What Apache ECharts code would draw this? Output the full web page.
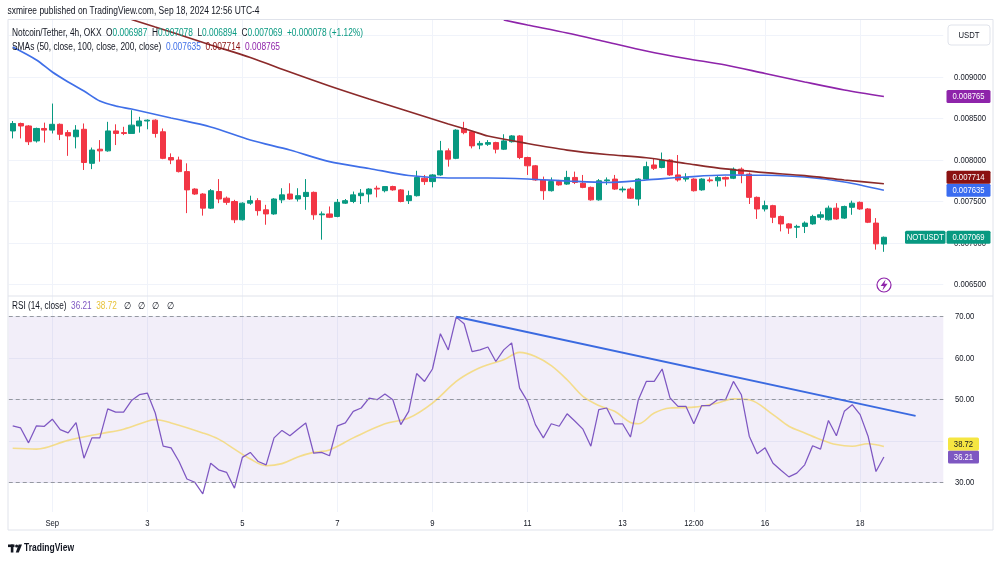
<!DOCTYPE html>
<html><head><meta charset="utf-8">
<script src="https://cdn.jsdelivr.net/npm/echarts@6/dist/echarts.min.js"></script>
<style>html,body{margin:0;padding:0;background:#fff}#c{width:1000px;height:562px}</style>
</head><body><div id="c"></div>
<script>
const FONT = '"Liberation Sans","Noto Sans",Arial,sans-serif';

// time axis (4h candles, index 0 = Aug 31 04:00)
const NCAT = 118;
const labelIndex = [5, 17, 29, 41, 53, 65, 77, 86, 95, 107];
const labelText  = ['Sep', '3', '5', '7', '9', '11', '13', '12:00', '16', '18'];
const priceTicks = [0.0065, 0.0070, 0.0075, 0.0080, 0.0085, 0.0090, 0.0095];
const rsiTicks = [30, 40, 50, 60, 70];

// candles: [open, high, low, close]
const candles = [
[0.00835,0.00847,0.00826,0.00844],[0.00844,0.00845,0.00826,0.00841],[0.00841,0.00842,0.00818,0.00822],[0.00823,0.00839,0.00821,0.00838],
[0.00838,0.00845,0.00821,0.00836],[0.00836,0.00868,0.00832,0.00843],[0.00843,0.00844,0.00824,0.00831],[0.00833,0.00836,0.00805,0.00829],
[0.00828,0.00842,0.00814,0.00836],[0.00837,0.00844,0.00788,0.00797],[0.00796,0.00815,0.00789,0.00812],[0.00813,0.00824,0.00798,0.00811],
[0.00811,0.00846,0.00810,0.00835],[0.00835,0.00843,0.00818,0.00832],[0.00833,0.00840,0.00830,0.00832],[0.00832,0.00860,0.00832,0.00842],
[0.00841,0.00852,0.00833,0.00847],[0.00847,0.00849,0.00837,0.00848],[0.00848,0.00849,0.00827,0.00832],[0.00834,0.00838,0.00801,0.00802],
[0.00803,0.00808,0.00795,0.00800],[0.00800,0.00804,0.00785,0.00786],[0.00786,0.00796,0.00736,0.00764],[0.00765,0.00766,0.00758,0.00759],
[0.00759,0.00760,0.00733,0.00742],[0.00742,0.00765,0.00741,0.00763],[0.00762,0.00777,0.00748,0.00753],[0.00754,0.00756,0.00746,0.00749],
[0.00750,0.00752,0.00724,0.00728],[0.00728,0.00749,0.00727,0.00748],[0.00748,0.00757,0.00746,0.00751],[0.00751,0.00754,0.00733,0.00739],
[0.00740,0.00746,0.00722,0.00735],[0.00735,0.00754,0.00734,0.00753],[0.00752,0.00766,0.00748,0.00758],[0.00759,0.00772,0.00752,0.00753],
[0.00753,0.00766,0.00750,0.00757],[0.00756,0.00777,0.00740,0.00761],[0.00761,0.00762,0.00728,0.00734],[0.00734,0.00738,0.00704,0.00735],
[0.00735,0.00744,0.00730,0.00731],[0.00732,0.00753,0.00731,0.00749],[0.00748,0.00753,0.00747,0.00751],[0.00750,0.00762,0.00748,0.00758],
[0.00757,0.00765,0.00747,0.00760],[0.00759,0.00766,0.00749,0.00765],[0.00766,0.00769,0.00755,0.00765],[0.00763,0.00768,0.00761,0.00768],
[0.00768,0.00769,0.00763,0.00764],[0.00764,0.00765,0.00749,0.00750],[0.00751,0.00763,0.00747,0.00757],[0.00757,0.00787,0.00756,0.00779],
[0.00778,0.00782,0.00770,0.00774],[0.00774,0.00783,0.00767,0.00782],[0.00782,0.00823,0.00781,0.00811],[0.00811,0.00814,0.00792,0.00801],
[0.00802,0.00837,0.00801,0.00836],[0.00838,0.00846,0.00831,0.00833],[0.00834,0.00835,0.00814,0.00817],[0.00818,0.00823,0.00813,0.00820],
[0.00819,0.00824,0.00817,0.00821],[0.00821,0.00822,0.00808,0.00813],[0.00813,0.00831,0.00812,0.00823],[0.00822,0.00830,0.00821,0.00829],
[0.00829,0.00830,0.00801,0.00803],[0.00803,0.00804,0.00782,0.00793],[0.00793,0.00794,0.00775,0.00776],[0.00776,0.00780,0.00752,0.00763],
[0.00763,0.00779,0.00762,0.00774],[0.00774,0.00776,0.00769,0.00770],[0.00771,0.00787,0.00770,0.00779],[0.00779,0.00786,0.00771,0.00773],
[0.00772,0.00782,0.00766,0.00767],[0.00767,0.00768,0.00751,0.00752],[0.00752,0.00777,0.00751,0.00775],[0.00775,0.00779,0.00770,0.00776],
[0.00777,0.00782,0.00764,0.00765],[0.00764,0.00768,0.00761,0.00765],[0.00765,0.00767,0.00753,0.00754],[0.00753,0.00778,0.00745,0.00777],
[0.00777,0.00798,0.00776,0.00792],[0.00794,0.00802,0.00788,0.00790],[0.00791,0.00809,0.00790,0.00800],[0.00800,0.00801,0.00781,0.00782],
[0.00782,0.00806,0.00774,0.00776],[0.00777,0.00784,0.00774,0.00779],[0.00777,0.00778,0.00762,0.00763],[0.00764,0.00778,0.00763,0.00777],
[0.00776,0.00779,0.00773,0.00775],[0.00775,0.00781,0.00768,0.00779],[0.00779,0.00780,0.00768,0.00777],[0.00778,0.00791,0.00777,0.00789],
[0.00789,0.00791,0.00772,0.00783],[0.00783,0.00785,0.00747,0.00755],[0.00755,0.00756,0.00729,0.00741],[0.00741,0.00751,0.00738,0.00745],
[0.00745,0.00746,0.00724,0.00731],[0.00732,0.00733,0.00714,0.00723],[0.00723,0.00724,0.00711,0.00718],[0.00719,0.00722,0.00706,0.00720],
[0.00720,0.00726,0.00712,0.00724],[0.00723,0.00734,0.00722,0.00732],[0.00731,0.00738,0.00728,0.00734],[0.00728,0.00745,0.00727,0.00742],
[0.00742,0.00748,0.00728,0.00729],[0.00730,0.00745,0.00729,0.00744],[0.00743,0.00751,0.00734,0.00748],[0.00749,0.00750,0.00740,0.00741],
[0.00741,0.00742,0.00724,0.00725],[0.00724,0.00730,0.00692,0.00699],[0.006987,0.007078,0.006894,0.007069]
];

// moving averages: [candle index, value]
const sma50 = [[0,0.009361],[3,0.009205],[5,0.009060],[7,0.008940],[9,0.008831],[11,0.008711],[13,0.008651],[15,0.008614],
[20,0.008506],[25,0.008398],[30,0.008241],[35,0.008120],[40,0.007980],[45,0.007898],[50,0.007813],[55,0.007783],[60,0.007783],
[65,0.007771],[70,0.007747],[75,0.007729],[80,0.007759],[85,0.007795],[90,0.007819],[95,0.007816],[100,0.007795],[105,0.007735],[110,0.007635]];
const sma100 = [[15,0.009693],[18,0.009602],[20,0.009542],[25,0.009386],[30,0.009235],[35,0.009060],[40,0.008892],[45,0.008735],
[50,0.008584],[55,0.008434],[58,0.008349],[60,0.008289],[65,0.008199],[70,0.008120],[75,0.008066],[80,0.008027],[85,0.007958],
[90,0.007892],[95,0.007847],[100,0.007811],[105,0.007759],[110,0.007714]];
const sma200 = [[62,0.009687],[65,0.009627],[70,0.009530],[75,0.009422],[80,0.009313],[85,0.009223],[90,0.009145],[95,0.009042],
[100,0.008940],[105,0.008843],[110,0.008765]];

// RSI (14, close) per candle
const rsi = [43.7,43.2,39.6,43.7,43.6,45.3,42.8,42.0,44.5,35.9,
40.8,40.8,47.8,47.0,47.0,49.8,51.2,51.6,46.8,38.8,
38.4,35.1,30.9,30.1,27.3,34.7,33.1,32.5,28.7,36.1,
37.3,35.1,34.3,40.8,42.6,41.3,42.9,44.4,37.1,37.3,
36.5,43.7,44.4,47.2,48.0,50.4,50.0,51.4,50.0,44.0,
47.2,56.3,54.4,57.4,65.9,62.0,69.9,68.3,61.6,62.0,
62.7,59.2,62.0,63.7,52.8,49.6,44.0,40.8,44.2,43.6,
46.6,44.8,42.9,38.8,47.6,48.0,44.2,44.2,41.0,50.0,
54.4,54.4,57.4,50.4,48.4,48.4,44.2,48.6,48.6,50.0,
50.0,54.4,51.2,41.2,37.0,38.4,34.7,33.0,31.4,32.3,
34.3,38.9,38.1,45.0,41.3,47.2,48.8,46.4,41.2,32.7,
36.21];
const rsiMa = [[0,38.3],[3,38.1],[7,40.2],[11,41.8],[14,42.9],[17,44.8],[18,45.2],[20,44.4],[24,42.0],[26,40.5],[28,38.1],
[30,35.7],[32,34.1],[34,34.6],[36,36.2],[38,37.3],[40,37.9],[43,40.8],[47,44.2],[50,45.6],[53,49.2],[56,54.4],[58,56.8],
[60,58.4],[62,59.6],[64,61.4],[66,60.4],[68,58.2],[70,54.8],[72,50.8],[74,48.6],[76,47.2],[78,44.5],[79,44.2],[81,46.8],
[83,48.0],[86,48.2],[89,49.2],[91,50.2],[93,50.0],[96,46.4],[98,43.6],[100,42.0],[102,40.4],[104,39.2],[106,38.8],[108,39.4],[110,38.72]];
const rsiTrend = [[56,70],[114,46.1]];
const rsiLevels = [70, 50, 30];

const headerLine1 = 'sxmiree published on TradingView.com, Sep 18, 2024 12:56 UTC-4';
const symbolText = 'Notcoin/Tether, 4h, OKX';
const changeText = '+0.000078 (+1.12%)';
const smaText = 'SMAs (50, close, 100, close, 200, close)';
const rsiText = 'RSI (14, close)';

const C_UP = '#089981', C_DN = '#f23645', C_50 = '#3f6fe8', C_100 = '#8b2a2a', C_100TAG = '#8b1212', C_200 = '#8e24aa',
      C_RSI = '#7e57c2', C_MA = 'rgba(245,210,80,0.65)', C_TXT = '#131722', C_GRID = '#f0f3fa';

const categories = Array.from({length: NCAT}, (_, i) => { const k = labelIndex.indexOf(i); return k >= 0 ? labelText[k] : ''; });
const last = candles[candles.length - 1];
const maxHigh = Math.max(...candles.map(c => c[1]));
const minLow = Math.min(...candles.map(c => c[2]));
const f6 = v => v.toFixed(6);

const chart = echarts.init(document.getElementById('c'), null, {renderer: 'canvas'});
const gridL = 8.74, gridW = 934.56;
const option = {
  animation: false,
  backgroundColor: '#ffffff',
  textStyle: {fontFamily: FONT},
  grid: [
    {left: gridL, width: gridW, top: 18.9, height: 265.6},
    {left: gridL, width: gridW, top: 316.7, height: 166},
    {left: 12.7, width: 926.64, top: 19.5, height: 492.5}
  ],
  xAxis: [
    {type: 'category', gridIndex: 0, data: categories, boundaryGap: true, show: false},
    {type: 'category', gridIndex: 1, data: categories, boundaryGap: true, show: false},
    {type: 'category', gridIndex: 2, data: categories, boundaryGap: false, z: 0,
     axisLine: {show: false}, axisTick: {show: false}, axisLabel: {show: false},
     splitLine: {show: true, interval: (i, v) => v !== '', lineStyle: {color: C_GRID, width: 1}}}
  ],
  yAxis: [
    {type: 'value', gridIndex: 0, position: 'right', min: 0.0065, max: 0.0097, interval: 0.0005,
     axisLine: {show: false}, axisTick: {show: false}, axisLabel: {show: false},
     splitLine: {lineStyle: {color: C_GRID}}},
    {type: 'value', gridIndex: 1, position: 'right', min: 30, max: 70, interval: 10,
     axisLine: {show: false}, axisTick: {show: false}, axisLabel: {show: false},
     splitLine: {lineStyle: {color: C_GRID}}},
    {type: 'value', gridIndex: 2, min: 0, max: 1, show: false}
  ],
  series: [
    {type: 'candlestick', xAxisIndex: 0, yAxisIndex: 0, barWidth: 5.6,
     data: candles.map(c => [c[0], c[3], c[2], c[1]]),
     itemStyle: {color: C_UP, color0: C_DN, borderColor: C_UP, borderColor0: C_DN, borderWidth: 1},
     markLine: {silent: true, symbol: 'none', label: {show: false}, animation: false,
       data: [
         {yAxis: maxHigh, lineStyle: {color: '#a7aab3', type: [1.5, 1.5], width: 1}},
         {yAxis: minLow, lineStyle: {color: '#a7aab3', type: [1.5, 1.5], width: 1}},
         {yAxis: last[3], lineStyle: {color: C_UP, type: [1.5, 1.5], width: 1, opacity: 0.6}}
       ]}},
    {type: 'line', xAxisIndex: 0, yAxisIndex: 0, data: sma50, smooth: 0.3, symbol: 'none', z: 3,
     lineStyle: {color: C_50, width: 1.7}},
    {type: 'line', xAxisIndex: 0, yAxisIndex: 0, data: sma100, smooth: 0.3, symbol: 'none', z: 3,
     lineStyle: {color: C_100, width: 1.7}},
    {type: 'line', xAxisIndex: 0, yAxisIndex: 0, data: sma200, smooth: 0.3, symbol: 'none', z: 3,
     lineStyle: {color: C_200, width: 1.7}},
    {type: 'line', xAxisIndex: 1, yAxisIndex: 1, data: rsi, symbol: 'none', clip: false, z: 4,
     lineStyle: {color: C_RSI, width: 1.25},
     markArea: {silent: true, itemStyle: {color: 'rgba(126,87,194,0.1)'}, data: [[{yAxis: 70}, {yAxis: 30}]]},
     markLine: {silent: true, symbol: 'none', label: {show: false},
       lineStyle: {color: '#9598a1', type: [4, 3], width: 1},
       data: rsiLevels.map(v => ({yAxis: v}))}},
    {type: 'line', xAxisIndex: 1, yAxisIndex: 1, data: rsiMa, smooth: 0.35, symbol: 'none', z: 3,
     lineStyle: {color: C_MA, width: 1.6}},
    {type: 'line', xAxisIndex: 1, yAxisIndex: 1, data: rsiTrend, symbol: 'none', z: 5, clip: false,
     lineStyle: {color: '#3b6ae0', width: 2}}
  ]
};
chart.setOption(option);

// ---------- overlay texts (condensed like the reference) ----------
const S = 0.81;
const mctx = document.createElement('canvas').getContext('2d');
function textW(str, size, weight) { mctx.font = `${weight || 'normal'} ${size}px ${FONT}`; return mctx.measureText(str).width; }
function T(x, y, text, st, opts) {
  opts = opts || {};
  return {type: 'text', x, y, z: opts.z || 105, silent: true, scaleX: opts.sx || S, scaleY: 1, originX: 0, originY: 0,
    style: Object.assign({text, fontFamily: FONT, fontSize: 9.5, fill: C_TXT, verticalAlign: 'middle', textAlign: 'left'}, st || {})};
}
const rs = (fill) => ({fill, fontFamily: FONT, fontSize: 10});
const g = [];
g.push({type: 'rect', silent: true, z: 90, shape: {x: 8, y: 19.5, width: 985, height: 510.5}, style: {fill: 'none', stroke: '#e0e3eb', lineWidth: 1}});
g.push({type: 'line', silent: true, z: 90, shape: {x1: 8, y1: 296, x2: 993, y2: 296}, style: {stroke: '#e0e3eb', lineWidth: 1}});

g.push(T(7.5, 11.5, headerLine1, {fontSize: 10}, {sx: 252 / textW(headerLine1, 10)}));
const row2plain = `${symbolText}  O${f6(last[0])}  H${f6(last[1])}  L${f6(last[2])}  C${f6(last[3])}  ${changeText}`;
g.push(T(12, 33, `{d|${symbolText}  O}{g|${f6(last[0])}}{d|  H}{g|${f6(last[1])}}{d|  L}{g|${f6(last[2])}}{d|  C}{g|${f6(last[3])}}{g|  ${changeText}}`,
  {fontSize: 10, rich: {d: rs(C_TXT), g: rs(C_UP)}}, {sx: 351 / textW(row2plain, 10)}));
const s50 = f6(sma50[sma50.length-1][1]), s100 = f6(sma100[sma100.length-1][1]), s200 = f6(sma200[sma200.length-1][1]);
const row3plain = `${smaText}  ${s50}  ${s100}  ${s200}`;
g.push(T(12, 47, `{d|${smaText}}{b|  ${s50}}{r|  ${s100}}{p|  ${s200}}`,
  {fontSize: 10, rich: {d: rs(C_TXT), b: rs(C_50), r: rs(C_100TAG), p: rs(C_200)}}, {sx: 268 / textW(row3plain, 10)}));
const rV = rsi[rsi.length-1].toFixed(2), mV = rsiMa[rsiMa.length-1][1].toFixed(2);
const rsiPlain = `${rsiText}  ${rV}  ${mV}   ∅   ∅   ∅   ∅`;
g.push(T(12, 306, `{d|${rsiText}}{p|  ${rV}}{y|  ${mV}}{d|   ∅   ∅   ∅   ∅}`,
  {fontSize: 10, rich: {d: rs(C_TXT), p: rs(C_RSI), y: rs('#e8c33a')}}, {sx: 162 / textW(rsiPlain, 10)}));

// axis labels drawn through the axis scales
const px = (grid, v) => chart.convertToPixel({gridIndex: grid}, [0, v])[1];
priceTicks.forEach(v => g.push(T(954, px(0, v), v.toFixed(6), {}, {z: 95})));
rsiTicks.forEach(v => g.push(T(955, px(1, v), v.toFixed(2), {}, {z: 95})));
labelIndex.forEach((idx, k) => {
  const x = chart.convertToPixel({gridIndex: 2}, [idx, 0])[0];
  g.push(T(x, 523, labelText[k], {textAlign: 'center'}, {z: 95}));
});

// USDT box
g.push({type: 'rect', silent: true, z: 100, shape: {x: 948, y: 25, width: 42, height: 20, r: 3}, style: {fill: '#fff', stroke: '#e0e3eb', lineWidth: 1}});
g.push(T(969, 35, 'USDT', {textAlign: 'center'}, {z: 101}));
// lightning icon
g.push({type: 'circle', silent: true, z: 100, shape: {cx: 884, cy: 285, r: 7}, style: {fill: '#fff', stroke: C_200, lineWidth: 1.2}});
g.push({type: 'polygon', silent: true, z: 101, shape: {points: [[885.6,279.6],[880.6,286],[883.8,286],[882.4,290.6],[887.6,283.8],[884.4,283.8]]}, style: {fill: C_200}});
// footer logo
g.push({type: 'rect', silent: true, z: 100, shape: {x: 8, y: 544.5, width: 6.5, height: 2.6}, style: {fill: C_TXT}});
g.push({type: 'rect', silent: true, z: 100, shape: {x: 10.8, y: 544.5, width: 2.6, height: 8}, style: {fill: C_TXT}});
g.push({type: 'circle', silent: true, z: 100, shape: {cx: 16.6, cy: 546, r: 1.5}, style: {fill: C_TXT}});
g.push({type: 'polygon', silent: true, z: 100, shape: {points: [[18.6,544.5],[22,544.5],[18.8,552.5],[15.8,552.5]]}, style: {fill: C_TXT}});
g.push(T(24, 548.5, 'TradingView', {fontSize: 10.5, fontWeight: 'bold'}, {sx: 50 / textW('TradingView', 10.5, 'bold')}));

// value tags on the right
function placeTags(list, h) {
  list.sort((a, b) => b.y - a.y);
  for (let k = 1; k < list.length; k++) if (list[k-1].y - list[k].y < h) list[k].y = list[k-1].y - h;
}
const priceTags = [
  {v: sma200[sma200.length-1][1], bg: C_200, fg: '#fff'},
  {v: sma100[sma100.length-1][1], bg: C_100TAG, fg: '#fff'},
  {v: sma50[sma50.length-1][1], bg: '#3a6cf0', fg: '#fff'},
  {v: last[3], bg: C_UP, fg: '#fff'}
].map(t => Object.assign(t, {y: px(0, t.v), txt: f6(t.v)}));
placeTags(priceTags, 13);
const rsiTags = [
  {v: rsiMa[rsiMa.length-1][1], bg: '#f5e642', fg: C_TXT},
  {v: rsi[rsi.length-1], bg: C_RSI, fg: '#fff'}
].map(t => Object.assign(t, {y: px(1, t.v), txt: t.v.toFixed(2)}));
placeTags(rsiTags, 13);
function tag(x, w, t) {
  g.push({type: 'rect', silent: true, z: 110, shape: {x, y: t.y - 6.5, width: w, height: 13, r: 1.5}, style: {fill: t.bg}});
  g.push(T(x + w / 2, t.y, t.txt, {textAlign: 'center', fill: t.fg}, {z: 111}));
}
priceTags.forEach(t => tag(946.5, 44, t));
rsiTags.forEach(t => tag(948, 31, t));
const lastTag = priceTags.find(t => t.v === last[3]);
tag(905, 40.5, {y: lastTag.y, bg: C_UP, fg: '#fff', txt: 'NOTUSDT'});
chart.setOption({graphic: g});
</script></body></html>
